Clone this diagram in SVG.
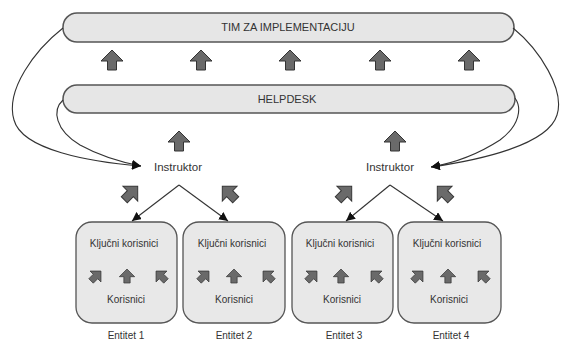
<svg xmlns="http://www.w3.org/2000/svg" width="561" height="341" viewBox="0 0 561 341">
<style>
  .bar{fill:#e6e6e6;stroke:#555;stroke-width:1.5}
  .box{fill:#e8e8e8;stroke:#555;stroke-width:1.3}
  .blk{fill:#6a6a6a;stroke:#333;stroke-width:1}
  .t{font-family:"Liberation Sans",Arial,sans-serif;fill:#333;text-anchor:middle}
  .c{fill:none;stroke:#333;stroke-width:1.1}
</style>
<defs>
  <marker id="ah" viewBox="0 0 10 10" refX="10" refY="5" markerWidth="9" markerHeight="9" markerUnits="userSpaceOnUse" orient="auto">
    <path d="M0,0 L10,5 L0,10 Z" fill="#111"/>
  </marker>
  <path id="up" class="blk" d="M0,-10 L11,1 L4.5,1 L4.5,10 L-4.5,10 L-4.5,1 L-11,1 Z"/>
</defs>
<rect width="561" height="341" fill="#fff"/>

<g id="tim">
  <rect class="bar" x="63" y="13" width="451" height="29" rx="14"/>
  <text class="t" x="288" y="31" font-size="11">TIM ZA IMPLEMENTACIJU</text>
</g>
<g id="helpdesk">
  <rect class="bar" x="63" y="85" width="452" height="28" rx="14"/>
  <text class="t" x="287" y="103" font-size="11">HELPDESK</text>
</g>

<g id="up-arrows">
  <use href="#up" x="112" y="60"/>
  <use href="#up" x="201" y="60"/>
  <use href="#up" x="290" y="60"/>
  <use href="#up" x="380" y="60"/>
  <use href="#up" x="469" y="60"/>
  <use href="#up" x="179" y="141"/>
  <use href="#up" x="395" y="141"/>
</g>

<g id="instruktor-1">
  <text class="t" x="178" y="171" font-size="11.5">Instruktor</text>
</g>
<g id="instruktor-2">
  <text class="t" x="390" y="171" font-size="11.5">Instruktor</text>
</g>

<g id="diag-arrows">
  <use href="#up" transform="translate(131,193) rotate(45) scale(0.95)"/>
  <use href="#up" transform="translate(229,193) rotate(-45) scale(0.95)"/>
  <use href="#up" transform="translate(345,193) rotate(45) scale(0.95)"/>
  <use href="#up" transform="translate(444,193) rotate(-45) scale(0.95)"/>
</g>

<g id="entitet-1">
  <rect class="box" x="76" y="222" width="101" height="101" rx="16"/>
  <text class="t" x="124" y="247" font-size="10">Ključni korisnici</text>
  <use href="#up" transform="translate(96,276) rotate(45) scale(0.7)"/>
  <use href="#up" transform="translate(127,276) scale(0.7)"/>
  <use href="#up" transform="translate(161,276) rotate(-45) scale(0.7)"/>
  <text class="t" x="126" y="303" font-size="10">Korisnici</text>
  <text class="t" x="126" y="339" font-size="10">Entitet 1</text>
</g>
<g id="entitet-2">
  <rect class="box" x="183" y="222" width="102" height="101" rx="16"/>
  <text class="t" x="232" y="247" font-size="10">Ključni korisnici</text>
  <use href="#up" transform="translate(204,276) rotate(45) scale(0.7)"/>
  <use href="#up" transform="translate(234,276) scale(0.7)"/>
  <use href="#up" transform="translate(268,276) rotate(-45) scale(0.7)"/>
  <text class="t" x="234" y="303" font-size="10">Korisnici</text>
  <text class="t" x="234" y="339" font-size="10">Entitet 2</text>
</g>
<g id="entitet-3">
  <rect class="box" x="292" y="222" width="101" height="101" rx="16"/>
  <text class="t" x="340" y="247" font-size="10">Ključni korisnici</text>
  <use href="#up" transform="translate(312,276) rotate(45) scale(0.7)"/>
  <use href="#up" transform="translate(341,276) scale(0.7)"/>
  <use href="#up" transform="translate(376,276) rotate(-45) scale(0.7)"/>
  <text class="t" x="342" y="303" font-size="10">Korisnici</text>
  <text class="t" x="344" y="339" font-size="10">Entitet 3</text>
</g>
<g id="entitet-4">
  <rect class="box" x="398" y="222" width="103" height="101" rx="16"/>
  <text class="t" x="447" y="247" font-size="10">Ključni korisnici</text>
  <use href="#up" transform="translate(418,276) rotate(45) scale(0.7)"/>
  <use href="#up" transform="translate(448,276) scale(0.7)"/>
  <use href="#up" transform="translate(483,276) rotate(-45) scale(0.7)"/>
  <text class="t" x="449" y="303" font-size="10">Korisnici</text>
  <text class="t" x="451" y="339" font-size="10">Entitet 4</text>
</g>

<g id="connectors">
  <path class="c" marker-end="url(#ah)" d="M63,28 C35,50 5,90 14,120 C22,150 90,162 141,166"/>
  <path class="c" marker-end="url(#ah)" d="M63,100 C52,110 55,130 80,145 C100,156 120,162 141,166"/>
  <path class="c" marker-end="url(#ah)" d="M513,28 C540,50 565,90 557,115 C548,145 480,160 431,167"/>
  <path class="c" marker-end="url(#ah)" d="M515,98 C522,108 520,125 500,140 C480,153 460,162 431,167"/>
  <path class="c" marker-end="url(#ah)" d="M179,185 L132,221"/>
  <path class="c" marker-end="url(#ah)" d="M179,185 L228,221"/>
  <path class="c" marker-end="url(#ah)" d="M390,185 L346,221"/>
  <path class="c" marker-end="url(#ah)" d="M390,185 L443,221"/>
</g>
</svg>
